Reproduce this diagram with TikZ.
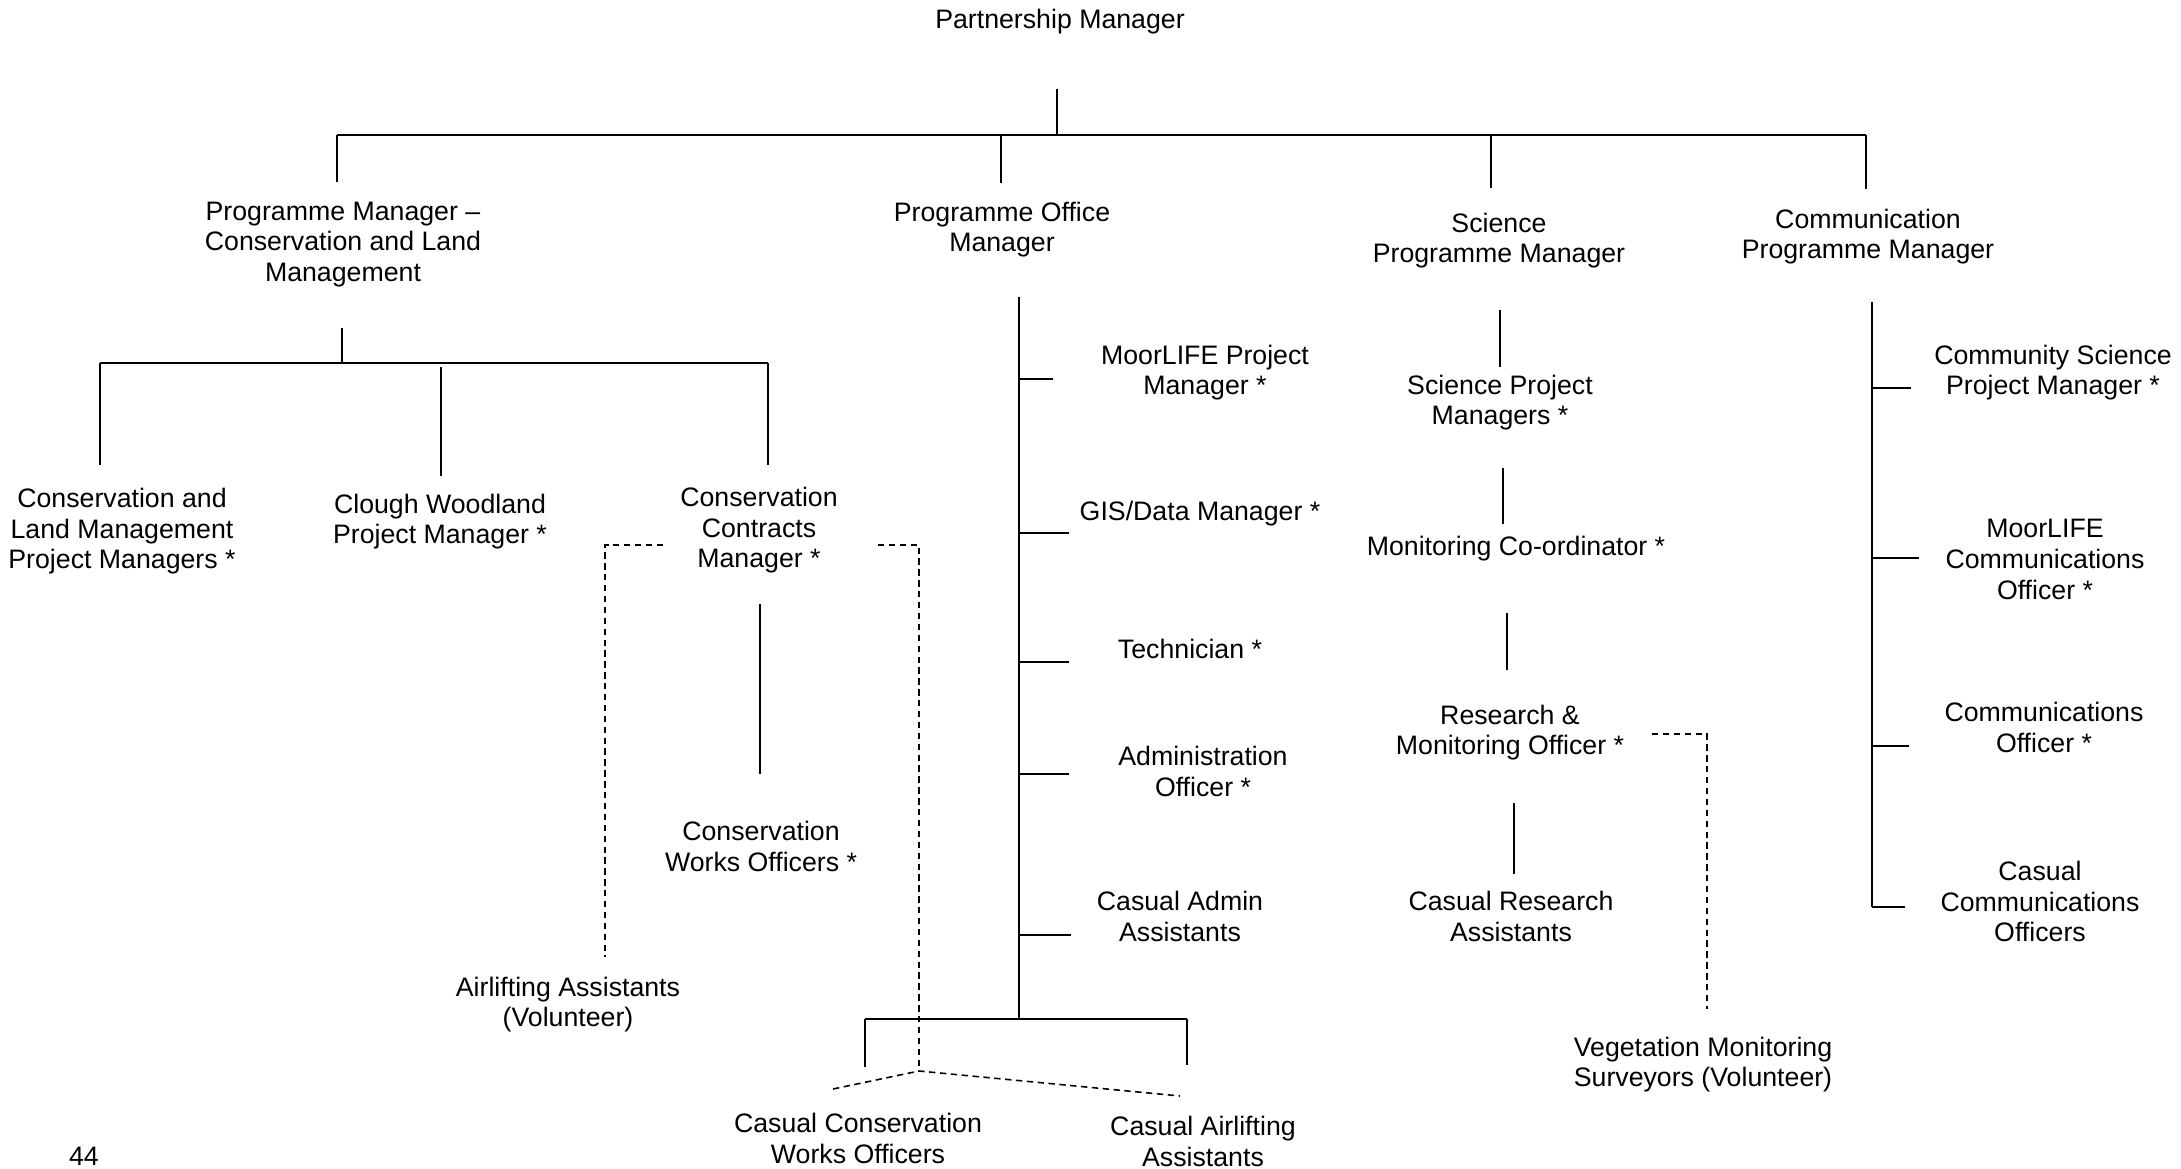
\documentclass[tikz,border=0pt]{standalone}
\usepackage{fontspec}
\setmainfont{Liberation Sans}
\usepackage{tikz}
\usetikzlibrary{positioning,calc}
\newcommand{\orgfont}{\fontsize{7.6}{8.7}\selectfont}

\begin{document}
\begin{tikzpicture}[
    job/.style={align=center, inner sep=0pt, font=\orgfont, yshift=-0.035cm},
    orgline/.style={line width=0.5pt},
    orgbar/.style={line width=0.65pt},
    volline/.style={line width=0.45pt, dash pattern=on 1.8pt off 1.3pt}]
    \useasboundingbox (0,0) rectangle (21.81,-11.69);

    % Top
    \node[job] (PM) at (10.60,-0.18) {Partnership Manager};
    \coordinate (pm0) at (10.57,-0.89);
    \coordinate (pm1) at (10.57,-1.35);
    \draw[orgline] (pm0) -- (pm1);
    \coordinate (barL) at (3.37,-1.35);
    \coordinate (barR) at (18.66,-1.35);
    \draw[orgbar] (barL) -- (barR);
    \foreach \n/\x/\y in {1/3.37/1.82, 2/10.01/1.83, 3/14.91/1.88, 4/18.66/1.89} {
        \coordinate (top\n) at (\x,-1.35);
        \coordinate (low\n) at (\x,-\y);
        \draw[orgline] (top\n) -- (low\n);
    }

    % Programme managers
    \node[job] (CLM) at (3.43,-2.41) {Programme Manager --\\Conservation and Land\\Management};
    \node[job] (POM) at (10.02,-2.26) {Programme Office\\Manager};
    \node[job] (SCI) at (14.99,-2.37) {Science\\Programme Manager};
    \node[job] (COM) at (18.68,-2.33) {Communication\\Programme Manager};

    % Conservation and land management
    \coordinate (clm0) at (3.42,-3.28);
    \coordinate (clm1) at (3.42,-3.63);
    \draw[orgline] (clm0) -- (clm1);
    \coordinate (cbarL) at (1.00,-3.63);
    \coordinate (cbarR) at (7.68,-3.63);
    \draw[orgbar] (cbarL) -- (cbarR);
    \foreach \n/\x/\a/\b in {1/1.00/3.63/4.65, 2/4.41/3.67/4.76, 3/7.68/3.63/4.65} {
        \coordinate (ctop\n) at (\x,-\a);
        \coordinate (clow\n) at (\x,-\b);
        \draw[orgline] (ctop\n) -- (clow\n);
    }
    \node[job] (CLPM) at (1.22,-5.28) {Conservation and\\Land Management\\Project Managers *};
    \node[job] (CWPM) at (4.40,-5.18) {Clough Woodland\\Project Manager *};
    \node[job] (CCM) at (7.59,-5.27) {Conservation\\Contracts\\Manager *};
    \node[job] (CWO) at (7.61,-8.43) {Conservation\\Works Officers *};
    \coordinate (ccm0) at (7.60,-6.04);
    \coordinate (ccm1) at (7.60,-7.74);
    \draw[orgline] (ccm0) -- (ccm1);
    \node[job] (AA) at (5.68,-10.01) {Airlifting Assistants\\(Volunteer)};
    \coordinate (aa0) at (6.63,-5.45);
    \coordinate (aa1) at (6.05,-5.45);
    \coordinate (aa2) at (6.05,-9.57);
    \draw[volline] (aa0) -- (aa1) -- (aa2);
    \coordinate (cc0) at (8.78,-5.45);
    \coordinate (cc1) at (9.19,-5.45);
    \coordinate (cc2) at (9.19,-10.71);
    \coordinate (cc3) at (8.33,-10.89);
    \coordinate (cc4) at (11.80,-10.96);
    \draw[volline] (cc0) -- (cc1) -- (cc2);
    \draw[volline] (cc3) -- (cc2) -- (cc4);

    % Programme office
    \coordinate (pos0) at (10.19,-2.97);
    \coordinate (pos1) at (10.19,-10.19);
    \draw[orgline] (pos0) -- (pos1);
    \foreach \n/\y/\e in {1/3.79/10.53, 2/5.33/10.69, 3/6.62/10.69, 4/7.74/10.69, 5/9.35/10.71} {
        \coordinate (os\n) at (10.19,-\y);
        \coordinate (oe\n) at (\e,-\y);
        \draw[orgline] (os\n) -- (oe\n);
    }
    \node[job] (MLPM) at (12.05,-3.69) {MoorLIFE Project\\Manager *};
    \node[job] (GIS) at (12.00,-5.10) {GIS/Data Manager *};
    \node[job] (TEC) at (11.90,-6.45) {Technician *};
    \node[job] (ADM) at (12.03,-7.68) {Administration\\Officer *};
    \node[job] (CAA) at (11.80,-9.13) {Casual Admin\\Assistants};
    \coordinate (obarL) at (8.65,-10.19);
    \coordinate (obarR) at (11.87,-10.19);
    \draw[orgbar] (obarL) -- (obarR);
    \coordinate (ob1) at (8.65,-10.67);
    \coordinate (ob2) at (11.87,-10.65);
    \draw[orgline] (obarL) -- (ob1);
    \draw[orgline] (obarR) -- (ob2);
    \node[job] (CCWO) at (8.58,-11.35) {Casual Conservation\\Works Officers};
    \node[job] (CAL) at (12.03,-11.38) {Casual Airlifting\\Assistants};

    % Science
    \foreach \n/\x/\a/\b in {1/15.00/3.10/3.67, 2/15.03/4.68/5.24, 3/15.07/6.13/6.70, 4/15.14/8.03/8.74} {
        \coordinate (ss\n) at (\x,-\a);
        \coordinate (se\n) at (\x,-\b);
        \draw[orgline] (ss\n) -- (se\n);
    }
    \node[job] (SPMG) at (15.00,-3.99) {Science Project\\Managers *};
    \node[job] (MCO) at (15.16,-5.45) {Monitoring Co-ordinator *};
    \node[job] (RMO) at (15.10,-7.29) {Research \&\\Monitoring Officer *};
    \node[job] (CRA) at (15.11,-9.13) {Casual Research\\Assistants};
    \node[job] (VMS) at (17.03,-10.61) {Vegetation Monitoring\\Surveyors (Volunteer)};
    \coordinate (vm0) at (16.52,-7.34);
    \coordinate (vm1) at (17.07,-7.34);
    \coordinate (vm2) at (17.07,-10.09);
    \draw[volline] (vm0) -- (vm1) -- (vm2);

    % Communication
    \coordinate (cs0) at (18.72,-3.02);
    \coordinate (cs1) at (18.72,-9.07);
    \draw[orgline] (cs0) -- (cs1);
    \foreach \n/\y/\e in {1/3.88/19.11, 2/5.58/19.19, 3/7.46/19.09, 4/9.07/19.05} {
        \coordinate (ms\n) at (18.72,-\y);
        \coordinate (me\n) at (\e,-\y);
        \draw[orgline] (ms\n) -- (me\n);
    }
    \node[job] (CSPM) at (20.53,-3.69) {Community Science\\Project Manager *};
    \node[job] (MLCO) at (20.45,-5.56) {MoorLIFE\\Communications\\Officer *};
    \node[job] (CO) at (20.44,-7.24) {Communications\\Officer *};
    \node[job] (CCO) at (20.40,-8.98) {Casual\\Communications\\Officers};

    % page number
    \node[job] (PG) at (0.84,-11.53) {44};
\end{tikzpicture}
\end{document}
